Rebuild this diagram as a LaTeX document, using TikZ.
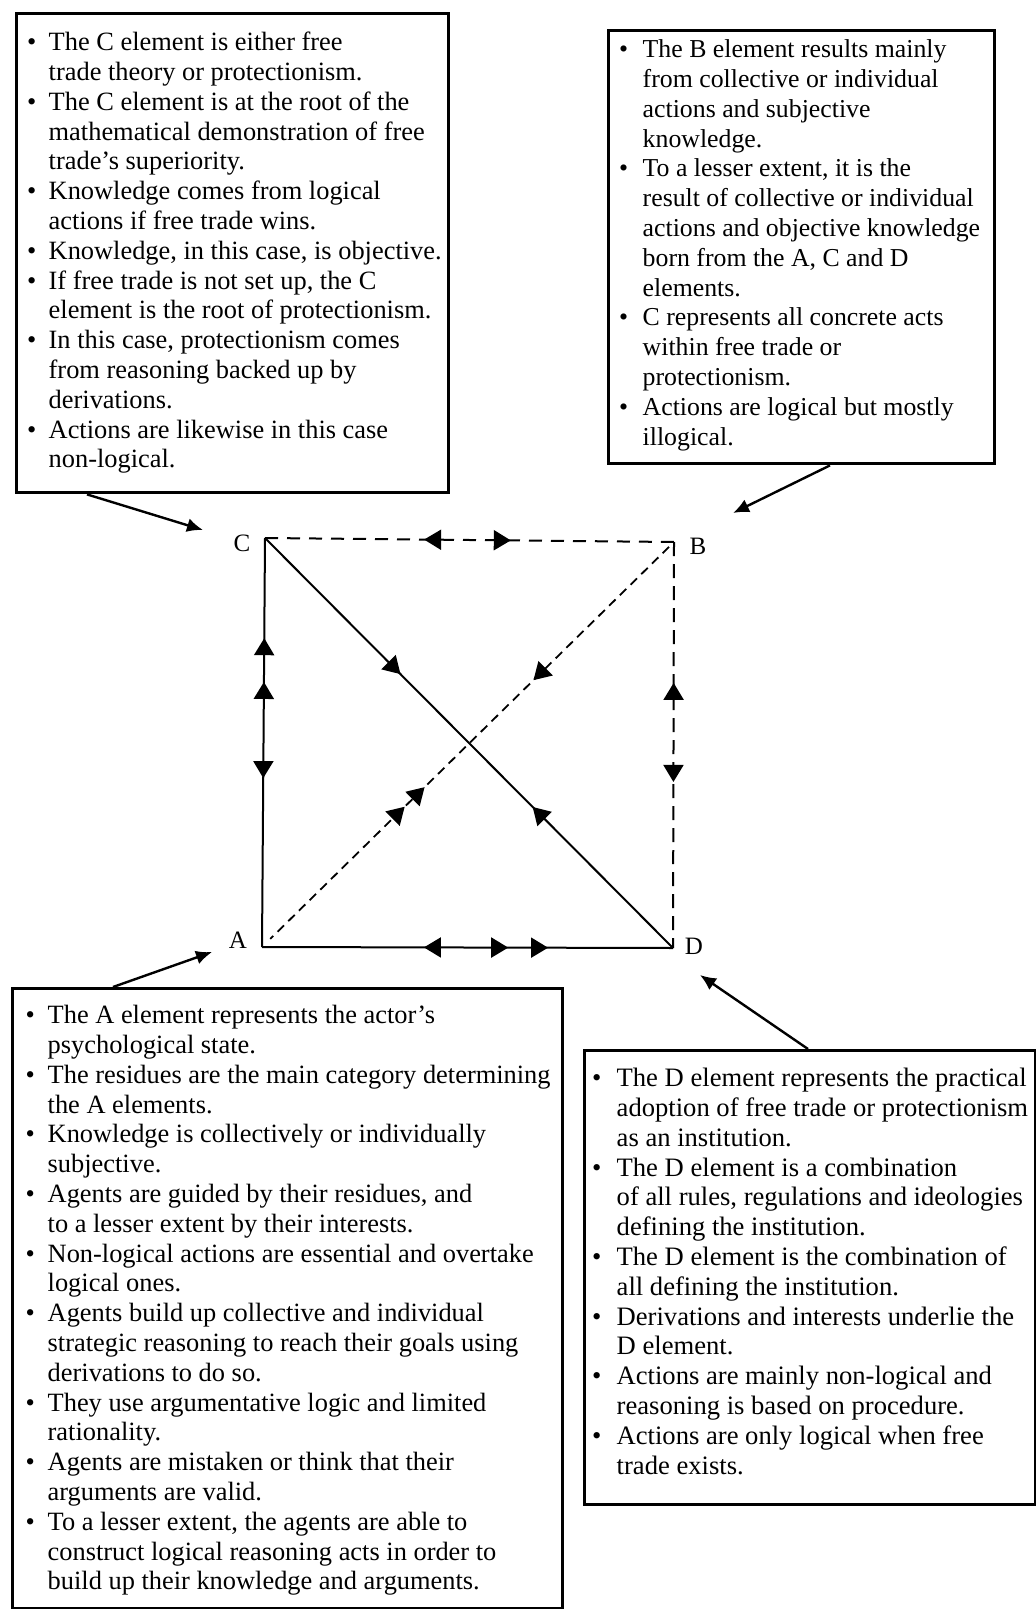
\documentclass[tikz,border=0pt]{standalone}
\usepackage{fontspec}
\setmainfont{Liberation Serif}
\usetikzlibrary{arrows.meta,decorations.markings,calc}

\newlength\bL \newlength\bH
\newcommand\bi[1]{\par\noindent\hspace*{\bL}\makebox[\bH][l]{\textbullet}\mbox{#1}}
\newcommand\cl[1]{\par\noindent\hspace*{\bL}\hspace*{\bH}\mbox{#1}}
\newcommand\boxtext[7]{% W, H, D, bL, bH, fontsize, content
  \begin{minipage}[t][#2][t]{#1}\setlength\parskip{0pt}\setlength\parindent{0pt}%
  \fontsize{#6}{14.9pt}\selectfont\setlength\bL{#4}\setlength\bH{#5}%
  \mbox{}\par\vspace*{#3}#7\par\end{minipage}}

\tikzset{
  tri/.tip={Triangle[length=8.5pt,width=10pt]},
  infobox/.style={draw, line width=1.7pt, inner sep=0pt, anchor=north west},
  solidln/.style={line width=1pt},
  dashln/.style={line width=1pt, dash pattern=on 6.5pt off 4.5pt},
  dashvert/.style={line width=1pt, dash pattern=on 7pt off 4pt},
  dashfine/.style={line width=0.9pt, dash pattern=on 4.5pt off 3pt},
  fw/.style={postaction={decorate,decoration={markings,mark=at position #1 with {\arrow[solid,fill=black!85]{tri}}}}},
  bw/.style={postaction={decorate,decoration={markings,mark=at position #1 with {\arrowreversed[solid,fill=black!85]{tri}}}}},
  ptr/.style={line width=1.2pt, -{Latex[length=8pt,width=7pt]}},
  corner/.style={font=\fontsize{12.5pt}{14pt}\selectfont, inner sep=0pt}
}

\begin{document}
\begin{tikzpicture}[x=0.5pt,y=-0.5pt]
\useasboundingbox (0,0) rectangle (1036,1609);

% Box C
\node[infobox] (boxC) at (15,12) {\boxtext{216pt}{239.5pt}{3.6pt}{5.2pt}{10.8pt}{13.2pt}{%
\bi{The C element is either free}
\cl{trade theory or protectionism.}
\bi{The C element is at the root of the}
\cl{mathematical demonstration of free}
\cl{trade's superiority.}
\bi{Knowledge comes from logical}
\cl{actions if free trade wins.}
\bi{Knowledge, in this case, is objective.}
\bi{If free trade is not set up, the C}
\cl{element is the root of protectionism.}
\bi{In this case, protectionism comes}
\cl{from reasoning backed up by}
\cl{derivations.}
\bi{Actions are likewise in this case}
\cl{non-logical.}}};

% Box B
\node[infobox] (boxB) at (607,29) {\boxtext{193pt}{216.5pt}{-1.4pt}{5.2pt}{11.8pt}{12.9pt}{%
\bi{The B element results mainly}
\cl{from collective or individual}
\cl{actions and subjective}
\cl{knowledge.}
\bi{To a lesser extent, it is the}
\cl{result of collective or individual}
\cl{actions and objective knowledge}
\cl{born from the A, C and D}
\cl{elements.}
\bi{C represents all concrete acts}
\cl{within free trade or}
\cl{protectionism.}
\bi{Actions are logical but mostly}
\cl{illogical.}}};

% Box A
\node[infobox] (boxA) at (11,987) {\boxtext{275pt}{310pt}{2.6pt}{6.5pt}{11pt}{13.2pt}{%
\bi{The A element represents the actor's}
\cl{psychological state.}
\bi{The residues are the main category determining}
\cl{the A elements.}
\bi{Knowledge is collectively or individually}
\cl{subjective.}
\bi{Agents are guided by their residues, and}
\cl{to a lesser extent by their interests.}
\bi{Non-logical actions are essential and overtake}
\cl{logical ones.}
\bi{Agents build up collective and individual}
\cl{strategic reasoning to reach their goals using}
\cl{derivations to do so.}
\bi{They use argumentative logic and limited}
\cl{rationality.}
\bi{Agents are mistaken or think that their}
\cl{arguments are valid.}
\bi{To a lesser extent, the agents are able to}
\cl{construct logical reasoning acts in order to}
\cl{build up their knowledge and arguments.}}};

% Box D
\node[infobox] (boxD) at (583,1049) {\boxtext{225.5pt}{227pt}{3.1pt}{3.7pt}{12.3pt}{13.3pt}{%
\bi{The D element represents the practical}
\cl{adoption of free trade or protectionism}
\cl{as an institution.}
\bi{The D element is a combination}
\cl{of all rules, regulations and ideologies}
\cl{defining the institution.}
\bi{The D element is the combination of}
\cl{all defining the institution.}
\bi{Derivations and interests underlie the}
\cl{D element.}
\bi{Actions are mainly non-logical and}
\cl{reasoning is based on procedure.}
\bi{Actions are only logical when free}
\cl{trade exists.}}};

% corners
\coordinate (C) at (265,538);
\coordinate (B) at (674,542);
\coordinate (A) at (262,947);
\coordinate (D) at (673,948);
\node[corner] (lC) at (242,543) {C};
\node[corner] (lB) at (698,546) {B};
\node[corner] (lA) at (238,940) {A};
\node[corner] (lD) at (694,946) {D};

% connectors
\draw[solidln, bw=0.245, bw=0.352, fw=0.587] (C) -- (A);
\draw[dashln, bw=0.389, fw=0.601] (C) -- (B);
\draw[solidln, fw=0.332, bw=0.656] (C) -- (D);
\draw[dashfine, fw=0.34, bw=0.613, bw=0.663] ($(B)!0.012!(A)$) -- ($(A)!0.02!(B)$);
\draw[dashvert, bw=0.347, fw=0.591] (B) -- (D);
\draw[solidln, bw=0.394, fw=0.599, fw=0.696] (A) -- (D);

% pointers
\coordinate (pC) at (203,530);
\coordinate (pB) at (733,513);
\coordinate (pA) at (212,952);
\coordinate (pD) at (700,975);
\draw[ptr] ([xshift=36pt]boxC.south west) -- (pC);
\draw[ptr] ([xshift=111.5pt]boxB.south west) -- (pB);
\draw[ptr] ([xshift=51pt]boxA.north west) -- (pA);
\draw[ptr] ([xshift=112.5pt]boxD.north west) -- (pD);
\end{tikzpicture}
\end{document}
